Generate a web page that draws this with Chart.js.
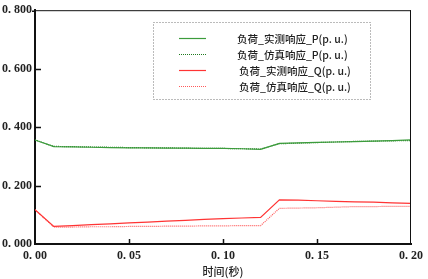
<!DOCTYPE html>
<html>
<head>
<meta charset="utf-8">
<script src="https://cdn.jsdelivr.net/npm/chart.js@4.4.0/dist/chart.umd.min.js"></script>
<style>
  html, body { margin: 0; padding: 0; background: #fff; }
  #wrap { width: 428px; height: 279px; }
</style>
</head>
<body>
<div id="wrap"><canvas id="chart" width="428" height="279"></canvas></div>
<script>
// time samples (s)
const times = [0.00, 0.01, 0.02, 0.03, 0.04, 0.05, 0.06, 0.07, 0.08, 0.09, 0.10,
               0.11, 0.12, 0.13, 0.14, 0.15, 0.16, 0.17, 0.18, 0.19, 0.20];

// load response, p.u.
const pMeasured = [0.356, 0.333, 0.332, 0.331, 0.330, 0.329, 0.329, 0.328, 0.328, 0.327, 0.327,
                   0.326, 0.324, 0.344, 0.346, 0.348, 0.349, 0.350, 0.352, 0.354, 0.356];
const pSimulated = [0.356, 0.334, 0.333, 0.332, 0.331, 0.330, 0.329, 0.329, 0.328, 0.327, 0.327,
                    0.326, 0.325, 0.343, 0.345, 0.347, 0.349, 0.351, 0.352, 0.353, 0.354];
const qMeasured = [0.117, 0.060, 0.063, 0.066, 0.069, 0.072, 0.075, 0.078, 0.081, 0.084, 0.087,
                   0.089, 0.091, 0.151, 0.150, 0.148, 0.146, 0.144, 0.143, 0.141, 0.139];
const qSimulated = [0.117, 0.058, 0.058, 0.059, 0.059, 0.060, 0.060, 0.061, 0.061, 0.062, 0.062,
                    0.063, 0.063, 0.122, 0.123, 0.124, 0.126, 0.128, 0.128, 0.129, 0.129];

const seriesNames = ['负荷_实测响应_P(p. u.)', '负荷_仿真响应_P(p. u.)',
                     '负荷_实测响应_Q(p. u.)', '负荷_仿真响应_Q(p. u.)'];

const xTicks = [0, 0.05, 0.10, 0.15, 0.20];
const yTicks = [0, 0.2, 0.4, 0.6, 0.8];

function pts(vals) {
    return vals.map((v, i) => ({ x: times[i], y: v }));
}

// tick labels drawn like "0. 800"
function fmt(v, digits) {
    return v.toFixed(digits).replace('.', '. ');
}

// frame, inward ticks and dotted legend box
const decorPlugin = {
    id: 'decor',
    afterDraw(chart) {
        const ctx = chart.ctx;
        const a = chart.chartArea;
        const xs = chart.scales.x, ys = chart.scales.y;
        ctx.save();
        ctx.strokeStyle = '#111';
        ctx.lineWidth = 1;
        ctx.beginPath();
        ctx.moveTo(a.left, a.top + 0.5);
        ctx.lineTo(a.right, a.top + 0.5);
        ctx.moveTo(a.right - 0.5, a.top);
        ctx.lineTo(a.right - 0.5, a.bottom);
        ctx.stroke();

        ctx.lineWidth = 1.5;
        ctx.beginPath();
        yTicks.slice(1, -1).forEach(v => {
            const y = Math.round(ys.getPixelForValue(v)) + 0.5;
            ctx.moveTo(a.left, y);
            ctx.lineTo(a.left + 6, y);
        });
        xTicks.slice(1, -1).forEach(v => {
            const x = Math.round(xs.getPixelForValue(v)) + 0.5;
            ctx.moveTo(x, a.bottom);
            ctx.lineTo(x, a.bottom - 5);
        });
        ctx.moveTo(a.left - 3, a.top + 1);
        ctx.lineTo(a.left, a.top + 1);
        ctx.stroke();

        // legend
        ctx.strokeStyle = '#777';
        ctx.lineWidth = 1;
        ctx.setLineDash([1, 2]);
        ctx.strokeRect(153.5, 22.5, 217, 77);
        const rowsY = [38, 54, 70, 86];
        const textX = [237, 237, 239, 239];
        chart.data.datasets.forEach((ds, i) => {
            ctx.strokeStyle = ds.borderColor;
            ctx.lineWidth = ds.borderWidth;
            ctx.setLineDash(ds.borderDash || []);
            ctx.beginPath();
            ctx.moveTo(179, rowsY[i] + 0.5);
            ctx.lineTo(206, rowsY[i] + 0.5);
            ctx.stroke();
            ctx.setLineDash([]);
            ctx.fillStyle = '#222';
            ctx.font = '500 10.5px "Noto Sans CJK SC"';
            ctx.textBaseline = 'middle';
            ctx.fillText(ds.label, textX[i], rowsY[i] + 1);
        });
        ctx.restore();
    }
};

new Chart(document.getElementById('chart'), {
    type: 'line',
    data: {
        datasets: [{
            label: seriesNames[0],
            data: pts(pMeasured),
            borderColor: '#3c9c3c',
            borderWidth: 1.2
        }, {
            label: seriesNames[1],
            data: pts(pSimulated),
            borderColor: '#1f7a1f',
            borderWidth: 1.2,
            borderDash: [1, 1]
        }, {
            label: seriesNames[2],
            data: pts(qMeasured),
            borderColor: '#ff3434',
            borderWidth: 1.2
        }, {
            label: seriesNames[3],
            data: pts(qSimulated),
            borderColor: '#ff5a5a',
            borderWidth: 1.2,
            borderDash: [1, 1]
        }]
    },
    options: {
        responsive: false,
        animation: false,
        layout: { padding: { top: 4, right: 14, left: 0, bottom: 0 } },
        elements: { point: { radius: 0 }, line: { tension: 0 } },
        plugins: {
            legend: { display: false },
            tooltip: { enabled: false }
        },
        scales: {
            x: {
                type: 'linear',
                min: 0,
                max: 0.2,
                afterBuildTicks: s => { s.ticks = xTicks.map(v => ({ value: v })); },
                afterFit: s => { s.height = 35; },
                grid: { display: false, drawTicks: false },
                border: { display: true, color: '#111', width: 2 },
                ticks: {
                    padding: 5,
                    maxRotation: 0,
                    color: '#222',
                    font: { family: '"Liberation Serif"', size: 12, weight: '600' },
                    callback: v => fmt(v, 2)
                },
                title: {
                    display: true,
                    text: '时间(秒)',
                    color: '#222',
                    font: { family: '"Noto Sans CJK SC"', size: 11, weight: '500' },
                    padding: { top: 0, bottom: 1 }
                }
            },
            y: {
                min: 0,
                max: 0.8,
                afterBuildTicks: s => { s.ticks = yTicks.map(v => ({ value: v })); },
                afterFit: s => { s.width = 35; },
                grid: { display: false, drawTicks: false },
                border: { display: true, color: '#111', width: 2 },
                ticks: {
                    padding: 3,
                    color: '#222',
                    font: { family: '"Liberation Serif"', size: 12, weight: '600' },
                    callback: v => fmt(v, 3)
                }
            }
        }
    },
    plugins: [decorPlugin]
});
</script>
</body>
</html>
